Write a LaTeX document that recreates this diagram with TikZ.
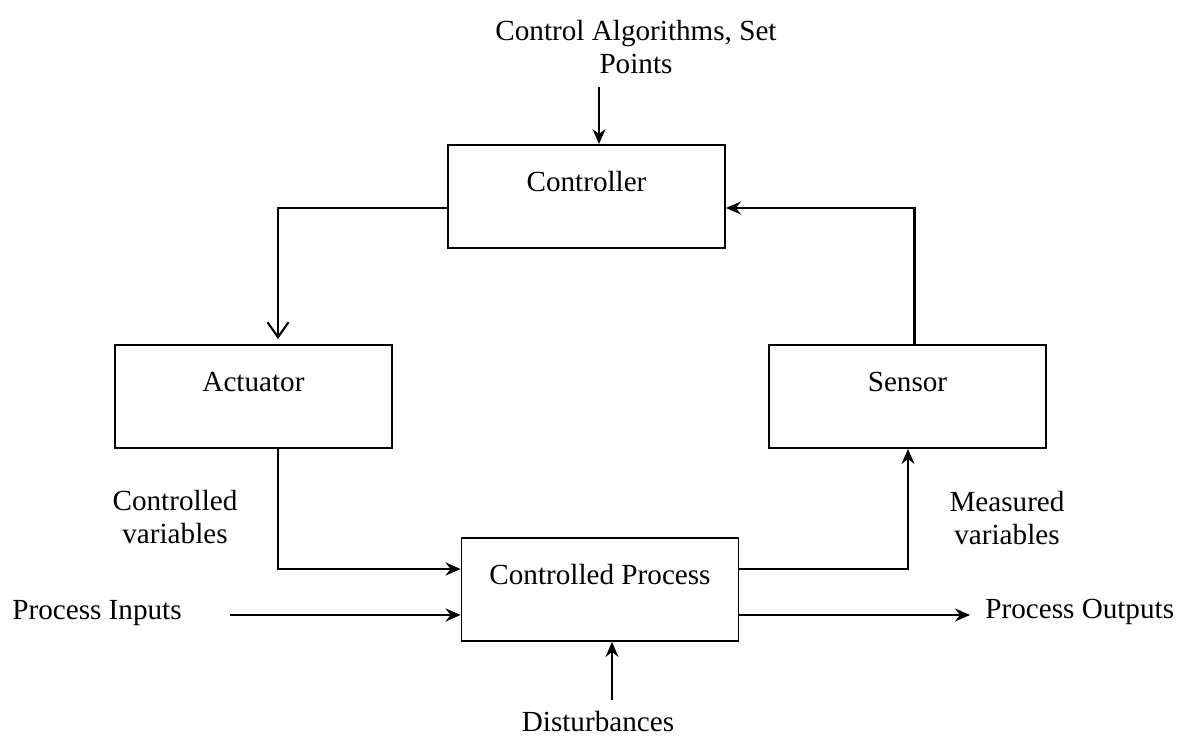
\documentclass[tikz,border=0pt]{standalone}
\usepackage{fontspec}
\setmainfont{Liberation Serif}
\newfontfamily\diagfont{Liberation Serif}
\usetikzlibrary{arrows.meta, positioning, calc}

\begin{document}
\begin{tikzpicture}[
  x=0.02cm, y=-0.02cm,
  every node/.style={font=\diagfont\fontsize{16.6}{19}\selectfont},
  box/.style={draw, line width=1.1pt, minimum width=5.54cm, minimum height=2.06cm,
              inner sep=0pt, text height=0.35cm, text depth=0.53cm},
  lbl/.style={align=center, inner sep=0pt},
  arr/.style={-{Stealth[length=0.3cm, width=0.26cm, inset=0.1cm]}, line width=1.2pt},
  openarr/.style={-{Straight Barb[length=0.3cm, width=0.42cm]}, line width=1.2pt}
]
  \useasboundingbox (0,0) rectangle (1191,736);

  \node[box] (ctrl) at (586.5,196.5) {Controller};
  \node[box] (act) at (253.5,396.5) {Actuator};
  \node[box] (sens) at (907.5,396.5) {Sensor};
  \node[box] (proc) at (600,589.5) {Controlled Process};

  \node[lbl] (alg) at (636,47) {Control Algorithms, Set\\Points};
  \node[lbl] (cvar) at (175,517) {Controlled\\variables};
  \node[lbl] (mvar) at (1007,518) {Measured\\variables};
  \node[lbl, anchor=west] (pin) at (12,613) {Process Inputs};
  \node[lbl, anchor=west] (pout) at (985,612) {Process Outputs};
  \node[lbl] (dist) at (598,722) {Disturbances};

  \coordinate (algend) at (599,87);
  \coordinate (pinend) at (230,615);
  \coordinate (distend) at (612,700);

  \draw[arr] (algend) -- (algend |- ctrl.north);
  \draw[openarr, shorten >=0.1cm] ($(ctrl.west)+(0,11.5)$) -| ($(act.north)+(24.5,0)$);
  \draw[arr] ($(act.south)+(24.5,0)$) |- ($(proc.west)+(0,-20.5)$);
  \draw[arr] ($(proc.east)+(0,-20.5)$) -| ($(sens.south)+(0.5,0)$);
  \draw[arr] ($(sens.north)+(7,0)$) |- ($(ctrl.east)+(0,11.5)$);
  \draw[arr] (pinend) -- (pinend -| proc.west);
  \draw[arr, shorten >=0.3cm] (proc.east |- pinend) -- (pout.west |- pinend);
  \draw[arr] (distend) -- (distend |- proc.south);
\end{tikzpicture}
\end{document}
